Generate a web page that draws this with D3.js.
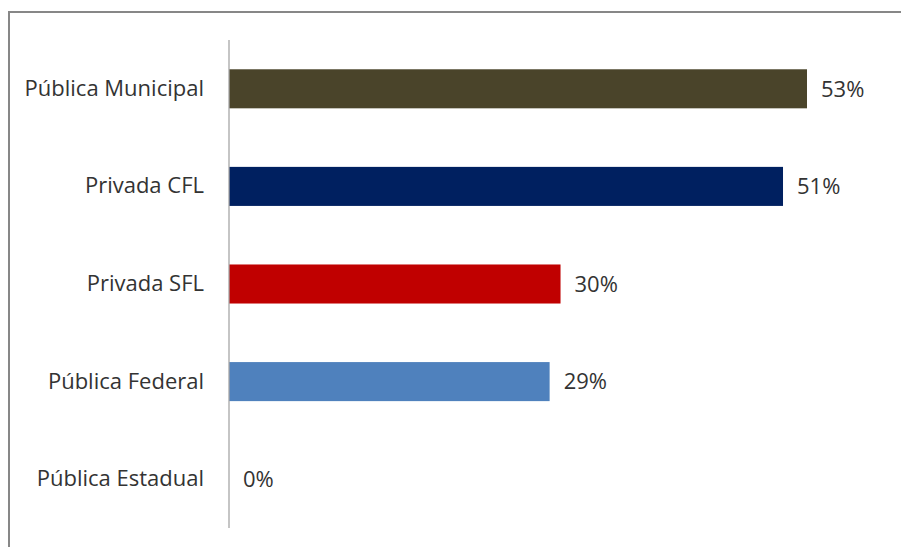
<!DOCTYPE html>
<html><head><meta charset="utf-8">
<script src="https://cdn.jsdelivr.net/npm/d3@7"></script>
<style>body{margin:0;background:#fff;}svg{display:block;}</style>
</head><body>
<svg id="chart" width="901" height="547"></svg>
<script>
const categories = ["Pública Municipal","Privada CFL","Privada SFL","Pública Federal","Pública Estadual"];
const values = [53.0, 50.8, 30.4, 29.4, 0];
const colors = ["#4a442a","#002060","#c00000","#4f81bd","#4f81bd"];

const svg = d3.select("#chart");
const W = 901, H = 547;
const FONT = "'Open Sans', sans-serif";
const FS = 22;

// outer border (extends beyond the right/bottom edge)
svg.append("rect").attr("x",9).attr("y",12).attr("width",W).attr("height",H)
  .attr("fill","#fff").attr("stroke","#878787").attr("stroke-width",2);

const x0 = 229;
const x = d3.scaleLinear().domain([0,53.0]).range([x0,807]);
const y = d3.scaleBand().domain(categories).range([40,528]).paddingInner(0.6).paddingOuter(0.3);

const g = svg.append("g");
g.selectAll("rect.bar").data(categories).join("rect").attr("class","bar")
  .attr("x",x(0)).attr("y",d=>y(d))
  .attr("width",(d,i)=>x(values[i])-x(0)).attr("height",y.bandwidth())
  .attr("fill",(d,i)=>colors[i]);

// axis
const axis = d3.axisLeft(y).tickSize(0).tickPadding(25);
const ag = svg.append("g").attr("transform",`translate(${x0},0)`).call(axis);
ag.select(".domain").attr("stroke","#a6a6a6").attr("stroke-width",1.3).attr("d","M0,40V528");
ag.selectAll("text").attr("font-family",FONT).attr("font-size",FS).attr("fill","#333");

const fmt = d3.format(".0f");
g.selectAll("text.lbl").data(categories).join("text").attr("class","lbl")
  .attr("x",(d,i)=>x(values[i])+14).attr("y",d=>y(d)+y.bandwidth()/2)
  .attr("dy","0.35em").attr("font-family",FONT).attr("font-size",FS).attr("fill","#333")
  .text((d,i)=>fmt(values[i])+"%");
</script>
</body></html>
